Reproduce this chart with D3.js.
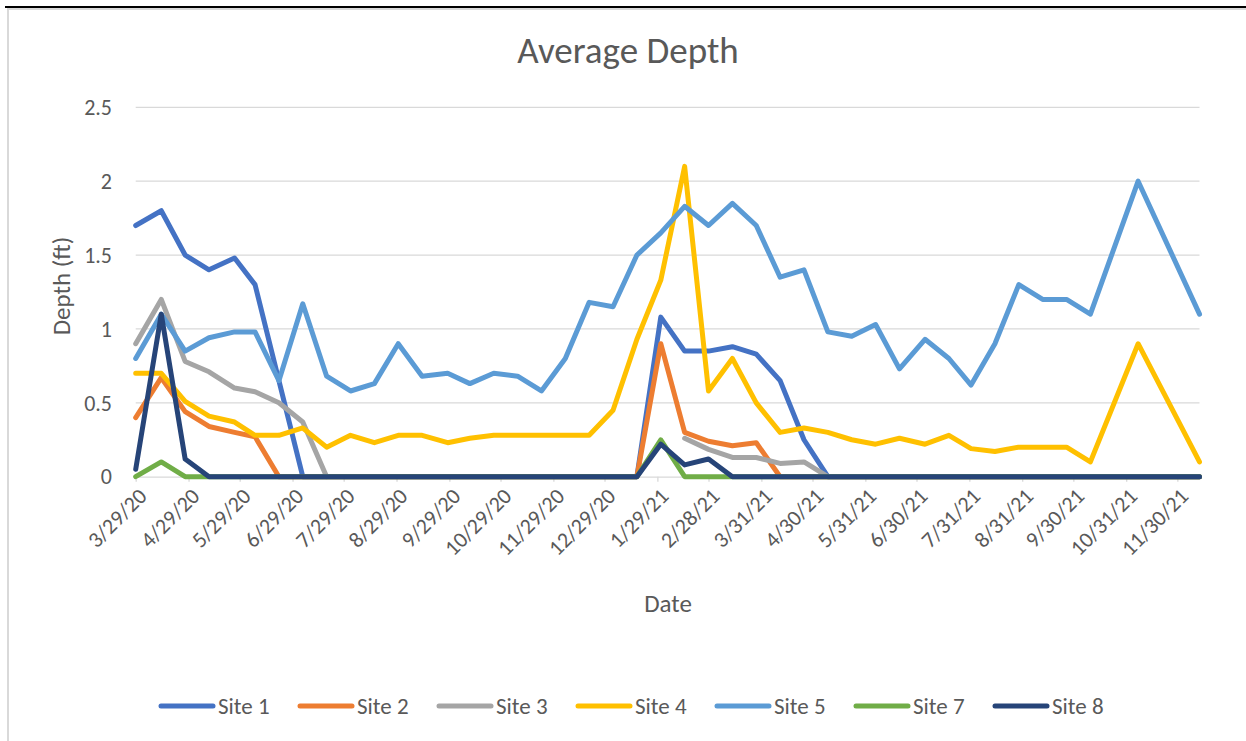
<!DOCTYPE html>
<html>
<head>
<meta charset="utf-8">
<script src="https://cdn.jsdelivr.net/npm/d3@7"></script>
<style>
  body { margin: 0; background: #fff; }
  text { font-family: Calibri, Carlito, Lato, sans-serif; fill: #595959; }
</style>
</head>
<body>
<div id="canvas"></div>
<script>
// sample dates (roughly every two weeks)
var dates = ["3/29/20","4/13/20","4/27/20","5/11/20","5/26/20","6/7/20","6/21/20","7/5/20","7/19/20","8/2/20",
             "8/16/20","8/30/20","9/13/20","9/28/20","10/11/20","10/25/20","11/8/20","11/22/20","12/6/20","12/20/20",
             "1/3/21","1/17/21","1/31/21","2/14/21","2/28/21","3/14/21","3/28/21","4/11/21","4/25/21","5/9/21",
             "5/23/21","6/6/21","6/20/21","7/5/21","7/19/21","8/1/21","8/15/21","8/29/21","9/12/21","9/26/21",
             "10/10/21","11/7/21","12/13/21"];

var site1 = [1.7,1.8,1.5,1.4,1.48,1.3,0.65,0,0,0, 0,0,0,0,0,0,0,0,0,0, 0,0,1.08,0.85,0.85,0.88,0.83,0.65,0.25,0, 0,0,0,0,0,0,0,0,0,0, 0,0,0];
var site2 = [0.4,0.67,0.44,0.34,0.3,0.27,0,0,0,0, 0,0,0,0,0,0,0,0,0,0, 0,0,0.9,0.3,0.24,0.21,0.23,0,0,0, 0,0,0,0,0,0,0,0,0,0, 0,0,0];
var site3 = [0.9,1.2,0.78,0.71,0.6,0.575,0.5,0.37,0,null, null,null,null,null,null,null,null,null,null,null, null,null,null,0.26,0.185,0.13,0.13,0.09,0.1,0, 0,0,0,0,0,0,0,0,0,0, 0,0,0];
var site4 = [0.7,0.7,0.51,0.41,0.37,0.28,0.28,0.33,0.2,0.28, 0.23,0.28,0.28,0.23,0.26,0.28,0.28,0.28,0.28,0.28, 0.45,0.93,1.33,2.1,0.58,0.8,0.5,0.3,0.33,0.3, 0.25,0.22,0.26,0.22,0.28,0.19,0.17,0.2,0.2,0.2, 0.1,0.9,0.1];
var site5 = [0.8,1.1,0.85,0.94,0.98,0.98,0.65,1.17,0.68,0.58, 0.63,0.9,0.68,0.7,0.63,0.7,0.68,0.58,0.8,1.18, 1.15,1.5,1.65,1.83,1.7,1.85,1.7,1.35,1.4,0.98, 0.95,1.03,0.73,0.93,0.8,0.62,0.9,1.3,1.2,1.2, 1.1,2.0,1.1];
var site7 = [0,0.1,0,0,0,0,0,0,0,0, 0,0,0,0,0,0,0,0,0,0, 0,0,0.25,0,0,0,0,0,0,0, 0,0,0,0,0,0,0,0,0,0, 0,0,0];
var site8 = [0.05,1.1,0.12,0,0,0,0,0,0,0, 0,0,0,0,0,0,0,0,0,0, 0,0,0.22,0.08,0.12,0,0,0,0,0, 0,0,0,0,0,0,0,0,0,0, 0,0,0];

var seriesNames = ["Site 1","Site 2","Site 3","Site 4","Site 5","Site 7","Site 8"];
var seriesValues = [site1, site2, site3, site4, site5, site7, site8];
var colors = ["#4472C4","#ED7D31","#A5A5A5","#FFC000","#5B9BD5","#70AD47","#264478"];

var tickLabels = ["3/29/20","4/29/20","5/29/20","6/29/20","7/29/20","8/29/20","9/29/20","10/29/20","11/29/20","12/29/20",
                  "1/29/21","2/28/21","3/31/21","4/30/21","5/31/21","6/30/21","7/31/21","8/31/21","9/30/21","10/31/21","11/30/21"];
var yTicks = [0, 0.5, 1, 1.5, 2, 2.5];

(function(){
    var parse = d3.timeParse("%m/%d/%y");

    var svg = d3.select("#canvas")
                .append("svg")
                .attr("width", 1246)
                .attr("height", 741);

    // frame
    svg.append("rect").attr("x", 8).attr("y", 9).attr("width", 1250).attr("height", 740)
       .attr("fill", "none").attr("stroke", "#D9D9D9").attr("stroke-width", 2);
    svg.append("line").attr("x1", 5).attr("x2", 1246).attr("y1", 7).attr("y2", 7)
       .attr("stroke", "#000").attr("stroke-width", 2);

    var x = d3.scaleTime()
              .domain([parse(dates[0]), parse(dates[dates.length - 1])])
              .range([135.7, 1199.5]);
    var y = d3.scaleLinear()
              .domain([0, 2.5])
              .range([476.7, 107.3]);

    // gridlines
    svg.append("g")
       .selectAll("line")
       .data(yTicks.slice(1))
       .enter()
       .append("line")
       .attr("x1", 135.7)
       .attr("x2", 1199.5)
       .attr("y1", function (d) { return y(d); })
       .attr("y2", function (d) { return y(d); })
       .attr("stroke", "#D9D9D9")
       .attr("stroke-width", 1.3);

    // y labels
    svg.append("g")
       .selectAll("text")
       .data(yTicks)
       .enter()
       .append("text")
       .attr("x", 112)
       .attr("y", function (d) { return y(d); })
       .attr("dy", "0.35em")
       .attr("text-anchor", "end")
       .style("font-size", "22px")
       .text(function (d) { return d; });

    // x axis
    var xAxis = d3.axisBottom(x)
                  .tickValues(tickLabels.map(parse))
                  .tickFormat(function (d, i) { return tickLabels[i]; })
                  .tickSizeInner(5)
                  .tickSizeOuter(0);

    var gx = svg.append("g")
                .attr("transform", "translate(0," + y(0) + ")")
                .call(xAxis);
    gx.select(".domain").attr("stroke", "#D9D9D9").attr("stroke-width", 1.3);
    gx.selectAll(".tick line").attr("stroke", "#D9D9D9").attr("stroke-width", 1.3);
    gx.selectAll(".tick text")
      .attr("y", 0)
      .attr("text-anchor", "end")
      .attr("transform", "translate(1,10) rotate(-45)")
      .attr("dy", "0.7em")
      .style("font-size", "22px")
      .style("fill", "#595959");

    // lines
    var line = d3.line()
                 .defined(function (d) { return d.v !== null; })
                 .x(function (d) { return x(d.date); })
                 .y(function (d) { return y(d.v); });

    seriesValues.forEach(function (vals, s) {
        var pts = vals.map(function (v, i) { return { date: parse(dates[i]), v: v }; });
        svg.append("path")
           .datum(pts)
           .attr("d", line)
           .attr("fill", "none")
           .attr("stroke", colors[s])
           .attr("stroke-width", 5)
           .attr("stroke-linejoin", "round")
           .attr("stroke-linecap", "round");
    });

    // titles
    svg.append("text")
       .attr("x", 628)
       .attr("y", 63)
       .attr("text-anchor", "middle")
       .style("font-size", "37px")
       .text("Average Depth");

    svg.append("text")
       .attr("transform", "translate(70,286) rotate(-90)")
       .attr("text-anchor", "middle")
       .style("font-size", "25px")
       .text("Depth (ft)");

    svg.append("text")
       .attr("x", 668)
       .attr("y", 612)
       .attr("text-anchor", "middle")
       .style("font-size", "25px")
       .text("Date");

    // legend
    var legend = svg.selectAll(".legend")
                    .data(seriesNames)
                    .enter()
                    .append("g")
                    .attr("class", "legend")
                    .attr("transform", function (d, i) {
                        return "translate(" + (161 + i * 139) + ",706)";
                    });

    legend.append("line")
          .attr("x1", 0)
          .attr("x2", 52)
          .attr("stroke", function (d, i) { return colors[i]; })
          .attr("stroke-width", 5)
          .attr("stroke-linecap", "round");

    legend.append("text")
          .attr("x", 57)
          .attr("dy", "0.35em")
          .style("font-size", "23px")
          .text(function (d) { return d; });
})();
</script>
</body>
</html>
